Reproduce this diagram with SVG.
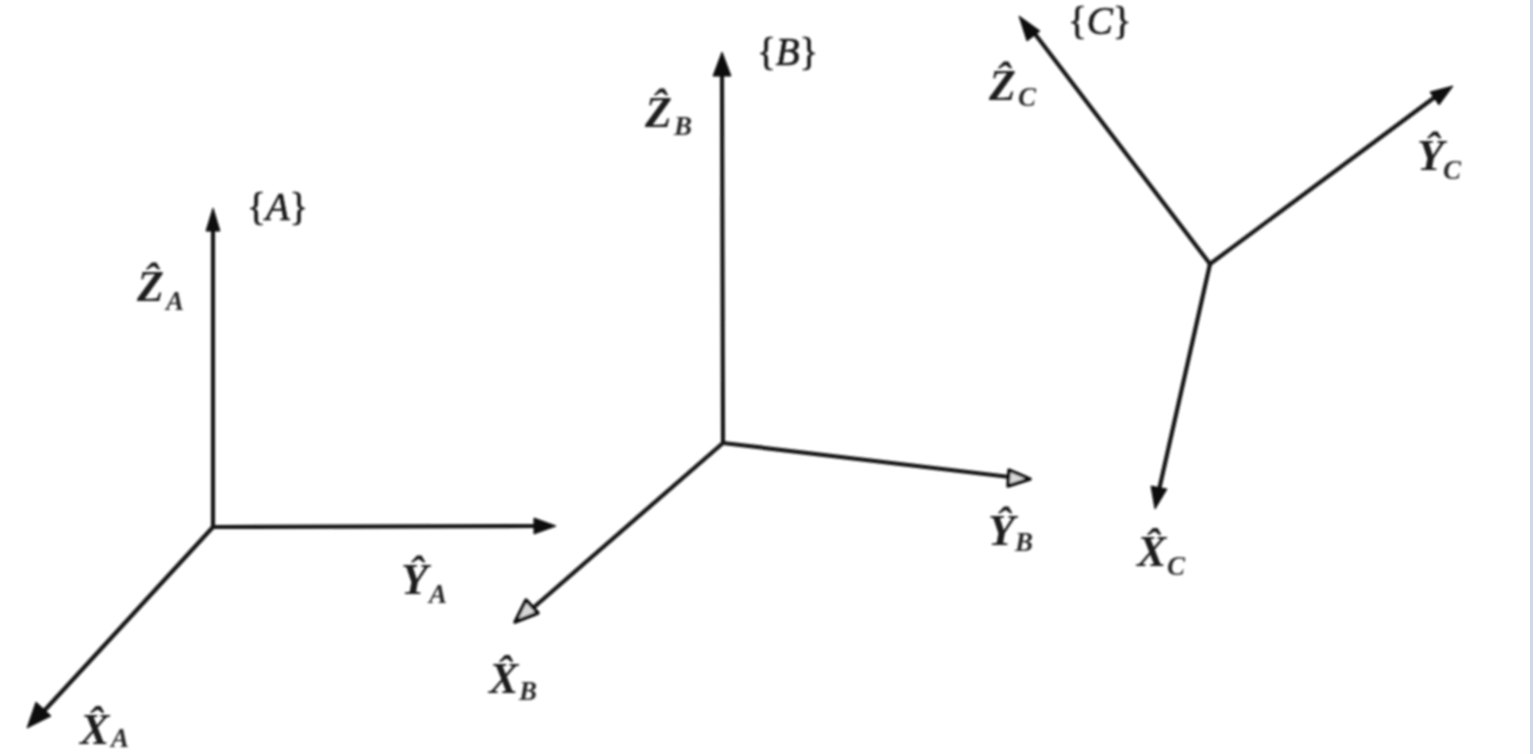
<svg xmlns="http://www.w3.org/2000/svg" width="1540" height="754" viewBox="0 0 1540 754">
<defs><filter id="scan" x="-5%" y="-5%" width="110%" height="110%"><feGaussianBlur stdDeviation="0.9"/></filter></defs>
<style>
.ax{stroke:#161616;stroke-width:4.2;fill:none;stroke-linecap:round}
.hd{fill:#0c0c0c;stroke:#0c0c0c;stroke-width:1;stroke-linejoin:round}
.hw{fill:#d8d8d8;stroke:#111;stroke-width:3.5;stroke-linejoin:round}
text{font-family:"Liberation Serif","Times New Roman",serif;font-style:italic;fill:#1a1a1a}
.m{font-size:44px;font-weight:bold}
.s{font-size:27px;font-weight:bold;fill:#2a2a2a}
.f{font-size:39px;stroke:#1a1a1a;stroke-width:.7}
.f tspan{font-style:normal}
</style>
<rect width="1540" height="754" fill="#fff"/>
<rect x="1530" y="0" width="3" height="754" fill="#cfd8e3"/>
<g filter="url(#scan)">
<g id="connectors">
<line class="ax" x1="213" y1="527" x2="213" y2="228"/>
<path class="hd" d="M213 208L220 231H206Z"/>
<line class="ax" x1="213" y1="527" x2="538" y2="526"/>
<path class="hd" d="M556 526L534 534V518Z"/>
<line class="ax" x1="213" y1="527" x2="44" y2="711"/>
<path class="hd" d="M27 728L36 702L51 716Z"/>
<line class="ax" x1="723" y1="443" x2="722" y2="72"/>
<path class="hd" d="M722 52L731 76H713Z"/>
<line class="ax" x1="723" y1="443" x2="1010" y2="477"/>
<path class="hw" d="M1030 479L1008 486L1009 470Z"/>
<line class="ax" x1="723" y1="443" x2="533" y2="608"/>
<path class="hw" d="M515 622L526 600L538 613Z"/>
<line class="ax" x1="1210" y1="264" x2="1032" y2="30"/>
<path class="hd" d="M1019 16L1040 31L1027 41Z"/>
<line class="ax" x1="1210" y1="264" x2="1435" y2="97"/>
<path class="hd" d="M1453 86L1439 105L1430 92Z"/>
<line class="ax" x1="1210" y1="264" x2="1159" y2="490"/>
<path class="hd" d="M1155 509L1151 486L1167 489Z"/>
</g>
<g id="frame-A">
<text class="f" x="247" y="220"><tspan>{</tspan>A<tspan>}</tspan></text>
<text class="m" x="137" y="301">Ẑ</text><text class="s" x="166" y="310">A</text>
<text class="m" x="401" y="594">Ŷ</text><text class="s" x="429" y="603">A</text>
<text class="m" x="80" y="744">X̂</text><text class="s" x="111" y="747">A</text>
</g>
<g id="frame-B">
<text class="f" x="757" y="65"><tspan>{</tspan>B<tspan>}</tspan></text>
<text class="m" x="645" y="127">Ẑ</text><text class="s" x="674" y="135">B</text>
<text class="m" x="988" y="545">Ŷ</text><text class="s" x="1015" y="551">B</text>
<text class="m" x="489" y="693">X̂</text><text class="s" x="519" y="700">B</text>
</g>
<g id="frame-C">
<text class="f" x="1068" y="34"><tspan>{</tspan>C<tspan>}</tspan></text>
<text class="m" x="989" y="100">Ẑ</text><text class="s" x="1018" y="106">C</text>
<text class="m" x="1417" y="170">Ŷ</text><text class="s" x="1443" y="179">C</text>
<text class="m" x="1137" y="566">X̂</text><text class="s" x="1167" y="575">C</text>
</g>
</g>
</svg>
